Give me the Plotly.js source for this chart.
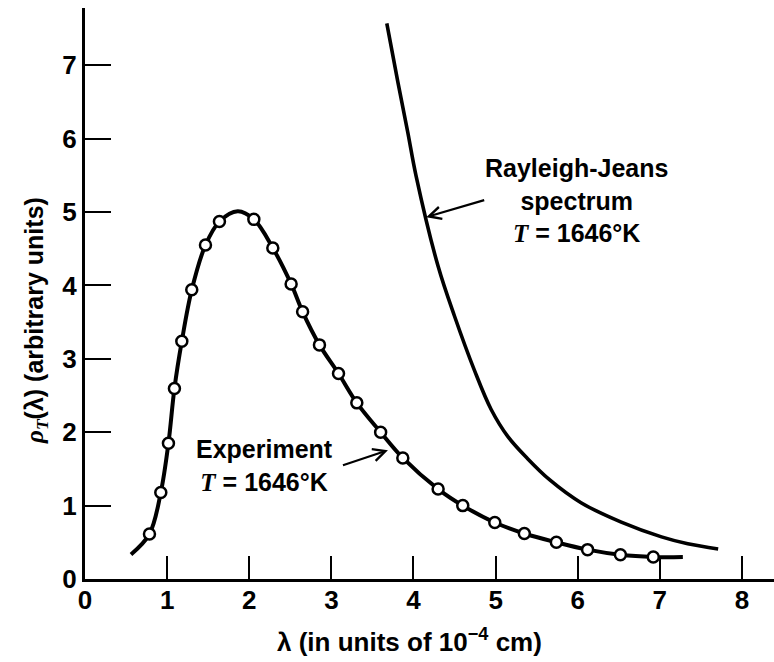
<!DOCTYPE html>
<html>
<head>
<meta charset="utf-8">
<script src="https://cdn.plot.ly/plotly-3.0.1.min.js"></script>
<style>
  html, body { margin: 0; padding: 0; background: #ffffff; }
  #chart { width: 774px; height: 662px; }
</style>
</head>
<body>
<div id="chart"></div>
<script>
// Experimental data points (open circles), λ in 10^-4 cm
const expPointX = [0.785, 0.923, 1.016, 1.089, 1.179, 1.30, 1.467, 1.637, 2.056, 2.287, 2.51, 2.65, 2.855, 3.087, 3.31, 3.60, 3.87, 4.30, 4.60, 4.99, 5.35, 5.74, 6.12, 6.52, 6.92];
const expPointY = [0.614, 1.18, 1.85, 2.595, 3.24, 3.94, 4.55, 4.87, 4.90, 4.51, 4.02, 3.64, 3.19, 2.80, 2.40, 2.00, 1.65, 1.225, 1.00, 0.77, 0.62, 0.50, 0.40, 0.33, 0.30];

const expCurveX = [0.56, 0.785, 0.923, 1.016, 1.089, 1.179, 1.30, 1.467, 1.637, 1.86, 2.056, 2.287, 2.51, 2.65, 2.855, 3.087, 3.31, 3.60, 3.87, 4.30, 4.60, 4.99, 5.35, 5.74, 6.12, 6.52, 6.92, 7.28];
const expCurveY = [0.335, 0.614, 1.18, 1.85, 2.595, 3.24, 3.94, 4.55, 4.87, 5.01, 4.90, 4.51, 4.02, 3.64, 3.19, 2.80, 2.40, 2.00, 1.65, 1.225, 1.00, 0.77, 0.62, 0.50, 0.40, 0.33, 0.30, 0.30];

// Rayleigh-Jeans spectrum curve
const rjX = [3.675, 3.81, 3.93, 4.03, 4.30, 4.50, 4.74, 4.946, 5.15, 5.39, 5.66, 6.04, 6.53, 7.02, 7.34, 7.71];
const rjY = [7.57, 6.77, 6.09, 5.50, 4.26, 3.58, 2.85, 2.31, 1.94, 1.64, 1.35, 1.04, 0.775, 0.574, 0.48, 0.41];

// Tick values
const xTicks = [0, 1, 2, 3, 4, 5, 6, 7, 8];
const yTicks = [0, 1, 2, 3, 4, 5, 6, 7];

// Labels
const xTitle = 'λ (in units of 10<sup>−4</sup> cm)';
const serifT = '<span style="font-family:\'Liberation Serif\',serif;font-style:italic">T</span>';
const serifRho = '<span style="font-family:\'Liberation Serif\',serif;font-style:italic">ρ</span>';
const yTitle = serifRho + '<sub>' + serifT + '</sub>(λ) (arbitrary units)';
const rjLabel = 'Rayleigh-Jeans<br>spectrum<br>' + serifT + ' = 1646°K';
const expLabel = 'Experiment<br>' + serifT + ' = 1646°K';

const FONT = 'Liberation Sans, Arial, sans-serif';

const traces = [
  {
    x: expCurveX, y: expCurveY, type: 'scatter', mode: 'lines',
    line: { color: '#000000', width: 4, shape: 'spline', smoothing: 1 },
    hoverinfo: 'skip', showlegend: false
  },
  {
    x: rjX, y: rjY, type: 'scatter', mode: 'lines',
    line: { color: '#000000', width: 3.6, shape: 'spline', smoothing: 1 },
    hoverinfo: 'skip', showlegend: false
  },
  {
    x: expPointX, y: expPointY, type: 'scatter', mode: 'markers',
    marker: { symbol: 'circle', size: 11, color: '#ffffff', line: { color: '#000000', width: 2.5 } },
    hoverinfo: 'skip', showlegend: false
  }
];

const layout = {
  width: 774, height: 662,
  margin: { l: 85, r: 0, t: 8, b: 83, pad: 0 },
  paper_bgcolor: '#ffffff', plot_bgcolor: '#ffffff',
  showlegend: false,
  font: { family: FONT, color: '#000000' },
  xaxis: {
    range: [0, 8.39], tickvals: xTicks, ticktext: xTicks.map(String),
    ticks: 'inside', ticklen: 23, tickwidth: 2, tickcolor: '#000000',
    ticklabelstandoff: -4,
    showline: true, linewidth: 3, linecolor: '#000000',
    showgrid: false, zeroline: false,
    tickfont: { family: FONT, size: 26, weight: 'bold', color: '#000000' }
  },
  yaxis: {
    range: [0, 7.78], tickvals: yTicks, ticktext: yTicks.map(String),
    ticks: 'inside', ticklen: 26, tickwidth: 2, tickcolor: '#000000',
    showline: true, linewidth: 3, linecolor: '#000000',
    showgrid: false, zeroline: false,
    tickfont: { family: FONT, size: 26, weight: 'bold', color: '#000000' }
  },
  annotations: [
    // axis titles
    { xref: 'paper', yref: 'paper', x: 0.471, y: -0.107, xanchor: 'center', yanchor: 'middle',
      text: xTitle, showarrow: false, font: { family: FONT, size: 26, weight: 'bold', color: '#000000' } },
    { xref: 'paper', yref: 'paper', x: -0.071, y: 0.452, xanchor: 'center', yanchor: 'middle',
      text: yTitle, textangle: -90, showarrow: false, font: { family: FONT, size: 25, weight: 'bold', color: '#000000' } },
    // curve labels with their pointer arrows
    { xref: 'x', yref: 'y', x: 4.155, y: 4.93, ax: 58, ay: -17,
      xanchor: 'left', yanchor: 'middle', align: 'center', borderpad: 0,
      text: rjLabel, showarrow: true, arrowhead: 5, arrowsize: 1.1, arrowwidth: 2.2, arrowcolor: '#000000',
      font: { family: FONT, size: 25, weight: 'bold', color: '#000000' } },
    { xref: 'x', yref: 'y', x: 3.689, y: 1.755, ax: -45, ay: 15,
      xanchor: 'right', yanchor: 'middle', align: 'center', borderpad: 9,
      text: expLabel, showarrow: true, arrowhead: 5, arrowsize: 1.1, arrowwidth: 2.2, arrowcolor: '#000000',
      font: { family: FONT, size: 25, weight: 'bold', color: '#000000' } }
  ]
};

Plotly.newPlot('chart', traces, layout, { displayModeBar: false, staticPlot: true });
</script>
</body>
</html>
